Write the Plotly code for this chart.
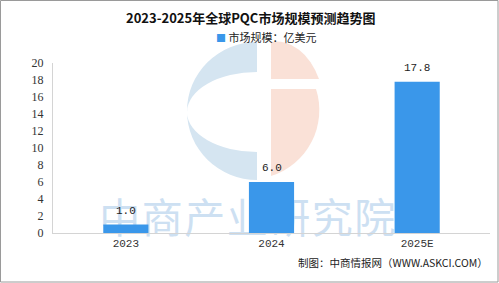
import plotly.graph_objects as go
import base64

categories = ["2023", "2024", "2025E"]
values = [1.0, 6.0, 17.8]
value_labels = ["1.0", "6.0", "17.8"]
y_ticks = [0, 2, 4, 6, 8, 10, 12, 14, 16, 18, 20]
series_name = "市场规模：亿美元"
title_text = "2023-2025年全球PQC市场规模预测趋势图"
source_text = "制图：中商情报网（WWW.ASKCI.COM）"
watermark_text = "中商产业研究院"
bar_color = "#3a97ea"

W, H = 499, 283
ML, MR, MT, MB = 53, 9, 63, 50
PW, PH = W - ML - MR, H - MT - MB

def px(x):
    return (x - ML) / PW

def py(y):
    return (H - MB - y) / PH

# watermark svg (logo + text), in pixel coordinates of the figure
svg = f'''<svg xmlns="http://www.w3.org/2000/svg" width="{W}" height="{H}" viewBox="0 0 {W} {H}">
<path d="M257,42 A70,69 0 0 0 257,180 L257,152 A70,40 0 0 1 257,72 Z" fill="#d5e5f1"/>
<path d="M271,42 A48,69 0 0 1 319,79 L271,79 Z" fill="#fae1d7"/>
<path d="M271,89 L316,89 A69,69 0 0 1 271,176 Z" fill="#fae1d7"/>
<text x="248" y="233" text-anchor="middle" font-family="Noto Sans CJK SC" font-size="41" fill="#cde0f2" letter-spacing="1.5">{watermark_text}</text>
</svg>'''
svg_uri = "data:image/svg+xml;base64," + base64.b64encode(svg.encode("utf-8")).decode()

fig = go.Figure()
fig.add_trace(go.Bar(
    x=categories, y=values, name=series_name,
    marker=dict(color=bar_color, line=dict(width=0)),
    width=0.31, showlegend=False,
))

for i, (v, t) in enumerate(zip(values, value_labels)):
    fig.add_annotation(x=i, y=v, text=t, showarrow=False, yanchor="middle",
                       yshift=14, font=dict(family="Liberation Mono", size=11, color="#222"))

fig.add_annotation(xref="paper", yref="paper", x=px(250), y=py(17), text=f"<b>{title_text}</b>",
                   showarrow=False, xanchor="center", yanchor="middle",
                   font=dict(family="Noto Sans CJK SC", size=13, color="#111"))
# legend
fig.add_annotation(xref="paper", yref="paper", x=px(214), y=py(37),
                   text=f"<span style='color:{bar_color};font-size:10px'>■</span> {series_name}",
                   showarrow=False, xanchor="left", yanchor="middle",
                   font=dict(family="Noto Sans CJK SC", size=11, color="#222"))
fig.add_annotation(xref="paper", yref="paper", x=px(490), y=py(262), text=source_text,
                   showarrow=False, xanchor="right", yanchor="middle",
                   font=dict(family="Noto Sans CJK SC", size=10.5, color="#222"))

fig.add_layout_image(dict(source=svg_uri, xref="paper", yref="paper",
                          x=px(0), y=py(0), sizex=W / PW, sizey=H / PH,
                          xanchor="left", yanchor="top", sizing="stretch", layer="below"))

fig.add_shape(type="rect", xref="paper", yref="paper",
              x0=px(0.5), x1=px(W - 1), y0=py(H - 1), y1=py(0.5),
              line=dict(color="#9a9a9a", width=1), fillcolor="rgba(0,0,0,0)")

fig.update_layout(
    width=W, height=H,
    margin=dict(l=ML, r=MR, t=MT, b=MB),
    paper_bgcolor="white", plot_bgcolor="rgba(0,0,0,0)",
    showlegend=False,
    bargap=0.69,
)
fig.update_xaxes(type="category", range=[-0.5, len(categories) - 0.5],
                 showline=True, linecolor="#d4d4d4", linewidth=1, ticks="",
                 tickfont=dict(family="Liberation Mono", size=11, color="#333"),
                 showgrid=False, zeroline=False)
fig.update_yaxes(range=[0, 20], tickvals=y_ticks, showline=True, linecolor="#d4d4d4",
                 linewidth=1, ticks="", showgrid=False, zeroline=False,
                 tickfont=dict(family="Liberation Serif", size=12, color="#333"),
                 ticklabelstandoff=6)

fig.write_html("out.html")
